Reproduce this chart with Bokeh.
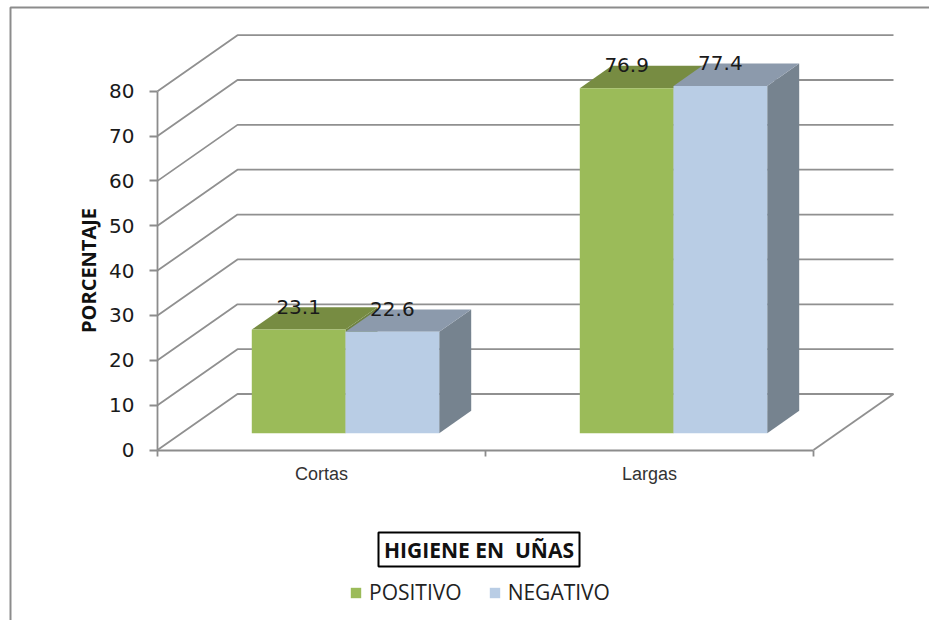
from bokeh.plotting import figure
from bokeh.models import (Range1d, LinearAxis, FixedTicker, Label, PolyAnnotation, Legend, LegendItem)
from bokeh.core.properties import value
from bokeh.embed import file_html
from bokeh.resources import INLINE

categories = ["Cortas", "Largas"]
positivo = [23.1, 76.9]
negativo = [22.6, 77.4]
y_ticks = [0, 10, 20, 30, 40, 50, 60, 70, 80]
series_names = ["POSITIVO", "NEGATIVO"]

GREEN, GREEN_TOP, GREEN_SIDE = "#9BBB59", "#778C42", "#6E8240"
BLUE, BLUE_TOP, BLUE_SIDE = "#B9CDE5", "#8C9AAC", "#76838F"
GRID = "#909090"
AXIS = "#8C8C8C"
INK = "#1A1A1A"

# projection of the 3-D box (data units)
DX = 80 / 328
DY = 56 / 4.4856
def px(c, d):
    return c + d * DX
def py(v, d):
    return v + d * DY

BW = 1 / 3.5
D0, D1 = 0.3, 0.7

p = figure(width=929, height=620, output_backend="svg", toolbar_location=None,
           x_range=Range1d(-157 / 328, 772 / 328), y_range=Range1d(-170.5 / 4.4856, 449.5 / 4.4856),
           x_axis_type=None, y_axis_type=None,
           min_border_left=0, min_border_right=0, min_border_top=0, min_border_bottom=0)
p.outline_line_color = None
p.grid.visible = False
p.background_fill_color = "white"

# walls
gx, gy = [], []
for t in y_ticks:
    gx.append([px(0, 0), px(0, 1), px(2, 1)])
    gy.append([py(t, 0), py(t, 1), py(t, 1)])
gx.append([px(2, 0), px(2, 1)])
gy.append([py(0, 0), py(0, 1)])
p.multi_line(gx, gy, line_color=GRID, line_width=1.8)

# bars
def quads(vals, start, kind):
    xs, ys = [], []
    for i, v in enumerate(vals):
        l = i + start
        r = l + BW
        if kind == "front":
            xs.append([px(l, D0), px(r, D0), px(r, D0), px(l, D0)])
            ys.append([py(0, D0), py(0, D0), py(v, D0), py(v, D0)])
        elif kind == "top":
            xs.append([px(l, D0), px(r, D0), px(r, D1), px(l, D1)])
            ys.append([py(v, D0), py(v, D0), py(v, D1), py(v, D1)])
        else:
            xs.append([px(r, D0), px(r, D1), px(r, D1), px(r, D0)])
            ys.append([py(0, D0), py(0, D1), py(v, D1), py(v, D0)])
    return xs, ys

S0, S1 = 0.75 / 3.5, 0.75 / 3.5 + BW
x_, y_ = quads(positivo, S0, "side")
p.patches(x_, y_, fill_color=GREEN_SIDE, line_color=None)
x_, y_ = quads(positivo, S0, "top")
p.patches(x_, y_, fill_color=GREEN_TOP, line_color=None)
x_, y_ = quads(negativo, S1, "side")
p.patches(x_, y_, fill_color=BLUE_SIDE, line_color=None)
x_, y_ = quads(negativo, S1, "top")
p.patches(x_, y_, fill_color=BLUE_TOP, line_color=None)
x_, y_ = quads(positivo, S0, "front")
r_pos = p.patches(x_, y_, fill_color=GREEN, line_color=None)
x_, y_ = quads(negativo, S1, "front")
r_neg = p.patches(x_, y_, fill_color=BLUE, line_color=None)

# data labels
for vals, start in ((positivo, S0), (negativo, S1)):
    p.text([px(i + start + BW / 2, D0) for i in range(2)],
           [py(v, D0) for v in vals],
           text=[str(v) for v in vals],
           text_align="center", text_baseline="middle", y_offset=-23,
           text_font=value("DejaVu Sans"), text_font_size="20px", text_color=INK)

# axes
ya = LinearAxis(ticker=FixedTicker(ticks=y_ticks), bounds=(0, 80), fixed_location=0,
                axis_line_color=AXIS, axis_line_width=1.8,
                major_tick_line_color=AXIS, major_tick_line_width=1.8,
                major_tick_in=0, major_tick_out=8, minor_tick_line_color=None,
                major_label_standoff=15,
                major_label_text_font="DejaVu Sans", major_label_text_font_size="20px",
                major_label_text_color=INK)
p.add_layout(ya, "left")

xa = LinearAxis(ticker=FixedTicker(ticks=[0.5, 1.5], minor_ticks=[0, 1, 2]), bounds=(0, 2), fixed_location=0,
                axis_line_color=AXIS, axis_line_width=1.8,
                major_tick_line_color=None, major_tick_in=0, major_tick_out=0,
                minor_tick_line_color=AXIS, minor_tick_line_width=1.8,
                minor_tick_in=0, minor_tick_out=6,
                major_label_overrides={0.5: categories[0], 1.5: categories[1]},
                major_label_standoff=8,
                major_label_text_font="Liberation Sans", major_label_text_font_size="18px",
                major_label_text_color="#333333")
p.add_layout(xa, "below")

# chart frame (left and top edges only are within the picture)
p.add_layout(PolyAnnotation(xs=[10, 10, 1200, 1200], ys=[7, 900, 900, 7], xs_units="canvas", ys_units="canvas",
                            fill_color=None, line_color="#8C8C8C", line_alpha=1, line_width=2))

# axis title
p.add_layout(Label(x=88, y=270, x_units="canvas", y_units="canvas", text="PORCENTAJE", angle=90, angle_units="deg",
                   text_align="center", text_baseline="middle", text_font="Open Sans",
                   text_font_style="bold", text_font_size="20px", text_color="#111111"))

# boxed title
p.add_layout(PolyAnnotation(xs=[378, 579, 579, 378], ys=[532, 532, 566, 566], xs_units="canvas", ys_units="canvas",
                            fill_color=None, line_color="black", line_alpha=1, line_width=2))
p.add_layout(Label(x=478.5, y=549, x_units="canvas", y_units="canvas", text="HIGIENE EN\u00a0 UÑAS",
                   text_align="center", text_baseline="middle", text_font="Open Sans",
                   text_font_style="bold", text_font_size="21px", text_color="#111111"))

# legend
legend = Legend(items=[LegendItem(label=series_names[0], renderers=[r_pos]),
                       LegendItem(label=series_names[1], renderers=[r_neg])],
                orientation="horizontal", location=(349, 14), padding=0, margin=0, spacing=26,
                glyph_width=13, glyph_height=13, label_standoff=7,
                border_line_color=None, background_fill_color=None,
                label_text_font="Open Sans", label_text_font_size="21px", label_text_color="#222222")
p.add_layout(legend, "center")

open("out.html", "w").write(file_html(p, INLINE))
